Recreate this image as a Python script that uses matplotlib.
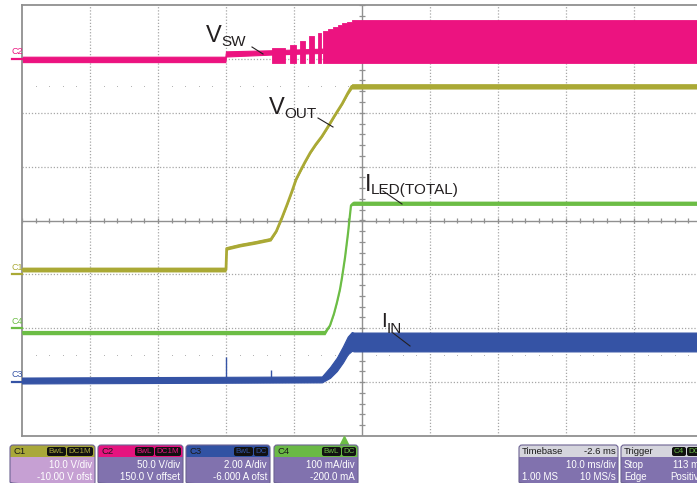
import matplotlib
matplotlib.use("Agg")
import matplotlib.pyplot as plt
from matplotlib.patches import FancyBboxPatch, Rectangle
import numpy as np

plt.rcParams['font.family'] = ['Liberation Sans', 'DejaVu Sans']

# channel setup (units per division, offset) as shown on the scope
ch_scale = {'C1': 10.0, 'C2': 50.0, 'C3': 2.0, 'C4': 100.0}
ch_offset = {'C1': -10.0, 'C2': 150.0, 'C3': -6.0, 'C4': -200.0}
ch_color = {'C1': '#aaa935', 'C2': '#ec1380', 'C3': '#3553a5', 'C4': '#6cbd45'}

# time in ms relative to screen centre (10 ms/div)
# C2 - V_SW (V): idle band, switching bursts, then continuous switching
vsw_base_t = [-50, -20.1, -20.0, -13.3, -5.8]
vsw_base_hi = [2.0, 2.0, 7.0, 8.0, 9.5]
vsw_base_lo = [-3.0, -3.0, 2.2, 4.0, 5.5]
burst_start = [-13.24, -10.59, -9.12, -7.79, -6.47]
burst_end = [-11.32, -9.71, -8.38, -7.06, -6.03]
burst_top = [10.0, 13.0, 17.0, 21.0, 24.0]
vsw_full_t = [-5.74, -5.0, -4.3, -3.6, -2.9, -2.2, -1.5, 50]
vsw_full_top = [25.5, 28.0, 30.0, 31.5, 33.0, 34.5, 36.4, 36.4]
vsw_low = -3.4

# C1 - V_OUT (V)
vout_t = [-50, -20.0, -19.9, -17.9, -15.7, -13.4, -12.6, -11.8, -11.0, -10.3,
          -9.7, -9.1, -8.4, -7.6, -6.8, -5.9, -5.0, -4.0, -2.9, -2.1, -1.5, 50]
vout_v = [0.9, 0.9, 4.8, 5.4, 5.9, 6.5, 8.0, 10.4, 13.0, 15.4,
          17.6, 19.1, 20.8, 22.6, 24.1, 25.6, 27.4, 29.5, 31.7, 33.6, 34.9, 34.9]
vout_band = [0.45, 0.45, 0.3, 0.3, 0.3, 0.3, 0.2, 0.2, 0.2, 0.2,
             0.2, 0.2, 0.2, 0.2, 0.2, 0.2, 0.2, 0.2, 0.2, 0.3, 0.5, 0.5]

# C4 - I_LED(TOTAL) (mA)
iled_t = [-50, -5.44, -4.71, -4.12, -3.68, -3.24, -2.94, -2.50, -2.06, -1.62, -1.32, 50]
iled_i = [-8, -8, 5, 27, 48, 72, 94, 131, 176, 228, 232, 232]
iled_band = [4, 4, 1, 1, 1, 1, 1, 1, 1, 1, 4, 4]

# C3 - I_IN (A)
iin_t = [-50, -5.9, -4.7, -3.7, -2.8, -2.1, -1.5, -1.2, 50]
iin_hi = [0.17, 0.21, 0.56, 0.91, 1.33, 1.69, 1.86, 1.84, 1.84]
iin_lo = [-0.05, -0.01, 0.16, 0.41, 0.73, 1.03, 1.16, 1.14, 1.14]
iin_spike_t = [-20.0, -13.4]
iin_spike_top = [0.92, 0.45]

trigger_delay = -2.6  # ms


def to_div(vals, ch):
    return (np.asarray(vals, dtype=float) + ch_offset[ch]) / ch_scale[ch]


fig = plt.figure(figsize=(6.97, 4.83), dpi=100)
ax = fig.add_axes([22 / 697, 47 / 483, 680 / 697, 431 / 483])
ax.set_xlim(-50, 50)
ax.set_ylim(-4, 4)
ax.set_xticks([])
ax.set_yticks([])
for s in ax.spines.values():
    s.set_color('#909090')
    s.set_linewidth(1.3)

# graticule
grid_kw = dict(color='#a6a6a6', lw=0.9, ls=(0, (1, 1.5)), zorder=0)
for gx in range(-40, 50, 10):
    if gx != 0:
        ax.axvline(gx, **grid_kw)
for gy in range(-3, 4):
    if gy != 0:
        ax.axhline(gy, **grid_kw)
ax.axvline(0, color='#909090', lw=1.0, zorder=0)
ax.axhline(0, color='#909090', lw=1.0, zorder=0)
mx = np.arange(-50, 50.01, 2)
ax.vlines(mx, -0.055, 0.055, color='#909090', lw=0.9, zorder=0)
my = np.arange(-4, 4.01, 0.2)
ax.hlines(my, -0.4, 0.4, color='#909090', lw=0.9, zorder=0)
dots_x = mx[np.mod(mx, 10) != 0]
for yy in (2.5, -2.5):
    ax.plot(dots_x, np.full_like(dots_x, yy), ls='none', marker='s', ms=0.7,
            mew=0, color='#b4b4b4', zorder=0)

# V_SW
c = ch_color['C2']
ax.fill_between(vsw_base_t, to_div(vsw_base_hi, 'C2'), to_div(vsw_base_lo, 'C2'),
                color=c, lw=0.8, ec=c, zorder=2)
for t0, t1, top in zip(burst_start, burst_end, burst_top):
    ax.fill_between([t0, t1], to_div([top, top], 'C2'), to_div([vsw_low, vsw_low], 'C2'),
                    color=c, lw=0.6, ec=c, zorder=2)
ax.fill_between(vsw_full_t, to_div(vsw_full_top, 'C2'),
                to_div(np.full(len(vsw_full_t), vsw_low), 'C2'),
                step='post', color=c, lw=0.6, ec=c, zorder=2)

# V_OUT
c = ch_color['C1']
vo = np.asarray(vout_v)
vb = np.asarray(vout_band)
ax.fill_between(vout_t, to_div(vo + vb, 'C1'), to_div(vo - vb, 'C1'), color=c, lw=0, zorder=3)
ax.plot(vout_t, to_div(vo, 'C1'), color=c, lw=2.0, zorder=3)

# I_LED
c = ch_color['C4']
il = np.asarray(iled_i, dtype=float)
ib = np.asarray(iled_band, dtype=float)
ax.fill_between(iled_t, to_div(il + ib, 'C4'), to_div(il - ib, 'C4'), color=c, lw=0, zorder=3)
ax.plot(iled_t, to_div(il, 'C4'), color=c, lw=1.6, zorder=3)

# I_IN
c = ch_color['C3']
ax.fill_between(iin_t, to_div(iin_hi, 'C3'), to_div(iin_lo, 'C3'), color=c, lw=0.8, ec=c, zorder=4)
ax.vlines(iin_spike_t, to_div([0.0, 0.0], 'C3'), to_div(iin_spike_top, 'C3'), color=c, lw=1.0, zorder=4)

# ground markers at left edge
for ch in ['C2', 'C1', 'C4', 'C3']:
    g = ch_offset[ch] / ch_scale[ch]
    ax.plot([-51.5, -50], [g, g], color=ch_color[ch], lw=1.6, clip_on=False, zorder=5)
    ax.text(-51.6, g + 0.05, ch, color=ch_color[ch], fontsize=6.5, ha='left', va='bottom',
            clip_on=False)

# trigger position marker
ax.plot([trigger_delay], [-4.07], marker='^', ms=6, color='#6cbd45', clip_on=False, zorder=5)

# overlay in pixel units for labels and the info bar
ov = fig.add_axes([0, 0, 1, 1])
ov.set_xlim(0, 697)
ov.set_ylim(483, 0)
ov.axis('off')

txt = '#231f20'
labels = [
    ('V', 'SW', 206, 42, 221, 46, 17, (252, 47), (263, 54)),
    ('V', 'OUT', 269, 114, 284, 118, 17, (318, 118), (333, 127)),
    ('I', 'LED(TOTAL)', 365, 191, 371, 194, 17, (383, 191), (402, 204)),
    ('I', 'IN', 381, 327, 387, 333, 15, (393, 333), (410, 346)),
]
for main, sub, xm, ym, xs, ys, fs, p0, p1 in labels:
    ov.text(xm, ym, main, fontsize=fs, color=txt, ha='left', va='baseline')
    ov.text(xs, ys, sub, fontsize=11, color=txt, ha='left', va='baseline')
    ov.plot([p0[0], p1[0]], [p0[1], p1[1]], color=txt, lw=0.8)

# info boxes
body_purple = '#8172ae'
boxes = [
    (10, 95, 'C1', '#a9a83a', '#c6a0d3', ['BwL', 'DC1M'], ['10.0 V/div', '-10.00 V ofst']),
    (98, 183, 'C2', '#e5137f', body_purple, ['BwL', 'DC1M'], ['50.0 V/div', '150.0 V offset']),
    (186, 270, 'C3', '#3152a3', body_purple, ['BwL', 'DC'], ['2.00 A/div', '-6.000 A ofst']),
    (274, 358, 'C4', '#6ab946', body_purple, ['BwL', 'DC'], ['100 mA/div', '-200.0 mA']),
]
tag_w = {'BwL': 20, 'DC1M': 27, 'DC': 15, 'C4': 15}


def draw_box(x0, x1, head_col, body_col):
    ov.add_patch(FancyBboxPatch((x0, 445), x1 - x0, 40, boxstyle='round,pad=0,rounding_size=3',
                                fc=head_col, ec='none'))
    ov.add_patch(Rectangle((x0, 457), x1 - x0, 28, fc=body_col, ec='none'))
    ov.add_patch(FancyBboxPatch((x0, 445), x1 - x0, 40, boxstyle='round,pad=0,rounding_size=3',
                                fc='none', ec='#6d6393', lw=0.8))


def draw_tags(x_right, tags, text_col):
    xr = x_right
    for tg in reversed(tags):
        w = tag_w[tg]
        ov.add_patch(FancyBboxPatch((xr - w, 447), w - 1, 9, boxstyle='round,pad=0,rounding_size=2',
                                    fc='#111111', ec='none'))
        ov.text(xr - w / 2 - 0.5, 451.8, tg, fontsize=5.8, color=text_col, ha='center', va='center')
        xr -= w


for x0, x1, name, hc, bc, tags, lines in boxes:
    draw_box(x0, x1, hc, bc)
    ov.text(x0 + 3, 451.5, name, fontsize=6.8, color='#1a1a1a', ha='left', va='center')
    draw_tags(x1 - 1, tags, hc)
    ov.text(x1 - 3, 465.5, lines[0], fontsize=7, color='white', ha='right', va='center')
    ov.text(x1 - 3, 477, lines[1], fontsize=7, color='white', ha='right', va='center')

head_gray = '#d5d5dd'
# timebase
draw_box(519, 618, head_gray, body_purple)
ov.text(522, 451.5, 'Timebase', fontsize=6.8, color='#1a1a1a', ha='left', va='center')
ov.text(616, 451.5, '%.1f ms' % trigger_delay, fontsize=6.8, color='#1a1a1a', ha='right', va='center')
ov.text(616, 465.5, '10.0 ms/div', fontsize=7, color='white', ha='right', va='center')
ov.text(522, 477, '1.00 MS', fontsize=7, color='white', ha='left', va='center')
ov.text(616, 477, '10 MS/s', fontsize=7, color='white', ha='right', va='center')

# trigger box (cut by the right edge of the screenshot, like the original)
draw_box(621, 712, head_gray, body_purple)
ov.text(624, 451.5, 'Trigger', fontsize=6.8, color='#1a1a1a', ha='left', va='center')
draw_tags(702, ['C4', 'DC'], '#6ab946')
ov.text(624, 465.5, 'Stop', fontsize=7, color='white', ha='left', va='center')
ov.text(673, 465.5, '113 mA', fontsize=7, color='white', ha='left', va='center')
ov.text(624, 477, 'Edge', fontsize=7, color='white', ha='left', va='center')
ov.text(670, 477, 'Positive', fontsize=7, color='white', ha='left', va='center')

fig.savefig('out.png', dpi=100)
